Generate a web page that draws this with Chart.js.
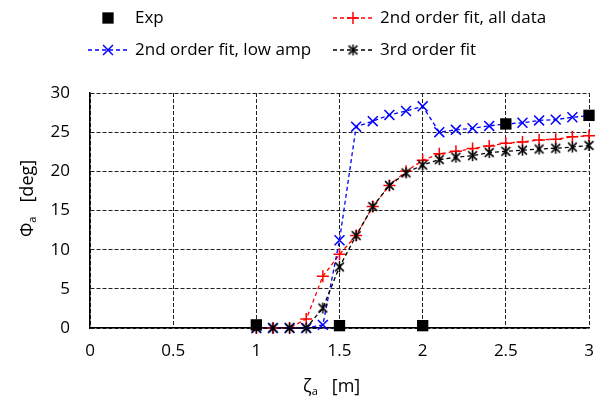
<!DOCTYPE html>
<html>
<head>
<meta charset="utf-8">
<script src="https://cdn.jsdelivr.net/npm/chart.js@4.4.0/dist/chart.umd.min.js"></script>
<style>
  html, body { margin: 0; padding: 0; background: #fff; }
  #wrap { width: 600px; height: 406px; }
</style>
</head>
<body>
<div id="wrap"><canvas id="phiChart" width="600" height="406"></canvas></div>
<script>
// Roll amplitude vs wave amplitude
const zeta = [1.0, 1.1, 1.2, 1.3, 1.4, 1.5, 1.6, 1.7, 1.8, 1.9, 2.0,
              2.1, 2.2, 2.3, 2.4, 2.5, 2.6, 2.7, 2.8, 2.9, 3.0];
const fitAllData = [0, 0, 0, 1.15, 6.6, 9.4, 11.8, 15.5, 18.2, 20.0, 21.4,
                    22.25, 22.55, 22.9, 23.25, 23.6, 23.75, 24.0, 24.1, 24.4, 24.55];
const fitLowAmp = [0, 0, 0, 0, 0.4, 11.2, 25.7, 26.4, 27.2, 27.7, 28.3,
                   25.0, 25.3, 25.5, 25.8, 26.05, 26.2, 26.5, 26.6, 26.9, 27.1];
const fit3rd = [0, 0, 0, 0, 2.55, 7.8, 11.8, 15.5, 18.2, 19.8, 20.8,
                21.5, 21.8, 22.0, 22.4, 22.55, 22.7, 22.85, 22.95, 23.1, 23.3];
const expZeta = [1.0, 1.5, 2.0, 2.5, 3.0];
const expPhi = [0.4, 0.3, 0.3, 26.05, 27.15];

const xTicks = [0, 0.5, 1, 1.5, 2, 2.5, 3];
const yTicks = [0, 5, 10, 15, 20, 25, 30];

const FONT = "'Open Sans', Lato, sans-serif";

function toPoints(xs, ys) {
  return xs.map((x, i) => ({ x: x, y: ys[i] }));
}

// Excel style "star" marker: an X with a vertical bar
function makeStar(size, color) {
  const c = document.createElement("canvas");
  c.width = size;
  c.height = size;
  const g = c.getContext("2d");
  const m = size / 2, r = size / 2 - 1;
  g.strokeStyle = color;
  g.lineWidth = 1.5;
  g.beginPath();
  g.moveTo(m - r * 0.8, m - r * 0.8); g.lineTo(m + r * 0.8, m + r * 0.8);
  g.moveTo(m + r * 0.8, m - r * 0.8); g.lineTo(m - r * 0.8, m + r * 0.8);
  g.moveTo(m, m - r); g.lineTo(m, m + r);
  g.stroke();
  return c;
}

const starMarker = makeStar(13, "#000");

function drawSub(ctx, main, sub, rest, x, y) {
  ctx.textAlign = "left";
  ctx.textBaseline = "alphabetic";
  ctx.font = "18px " + FONT;
  ctx.fillText(main, x, y);
  let w = ctx.measureText(main).width;
  ctx.font = "11px " + FONT;
  ctx.fillText(sub, x + w, y + 3);
  w += ctx.measureText(sub).width;
  ctx.font = "18px " + FONT;
  ctx.fillText(rest, x + w, y);
}

// where each legend entry goes: dataset index, line start, row y
const legendSlots = [
  { ds: 3, x: 88, y: 18, line: false },
  { ds: 0, x: 333, y: 18, line: true },
  { ds: 1, x: 88, y: 50, line: true },
  { ds: 2, x: 333, y: 50, line: true },
];

const textPlugin = {
  id: "axisText",
  afterDraw(chart) {
    const ctx = chart.ctx;
    ctx.save();
    ctx.fillStyle = "#000";
    drawSub(ctx, "ζ", "a", "   [m]", 303, 392);
    ctx.save();
    ctx.translate(33, 237);
    ctx.rotate(-Math.PI / 2);
    drawSub(ctx, "Φ", "a", "   [deg]", 0, 0);
    ctx.restore();

    legendSlots.forEach((s) => {
      const ds = chart.data.datasets[s.ds];
      const mid = s.x + 20;
      if (s.line) {
        ctx.save();
        ctx.strokeStyle = ds.borderColor;
        ctx.lineWidth = ds.borderWidth;
        ctx.setLineDash(ds.borderDash);
        ctx.beginPath();
        ctx.moveTo(s.x, s.y);
        ctx.lineTo(s.x + 40, s.y);
        ctx.stroke();
        ctx.restore();
      }
      ctx.save();
      ctx.strokeStyle = ds.pointBorderColor;
      ctx.fillStyle = ds.pointBackgroundColor;
      Chart.helpers.drawPoint(ctx, {
        pointStyle: ds.pointStyle,
        radius: ds.pointRadius,
        rotation: 0,
        borderWidth: ds.pointBorderWidth,
      }, mid, s.y);
      ctx.restore();
      ctx.fillStyle = "#000";
      ctx.font = "17px " + FONT;
      ctx.textBaseline = "middle";
      ctx.textAlign = "left";
      ctx.fillText(ds.label, s.x + 47, s.y);
    });
    ctx.restore();
  },
};

const tickLabel = (v) => String(v);

const ctx = document.getElementById("phiChart").getContext("2d");
new Chart(ctx, {
  type: "scatter",
  data: {
    datasets: [
      {
        label: "2nd order fit, all data",
        data: toPoints(zeta, fitAllData),
        showLine: true,
        borderColor: "#ff0000",
        borderWidth: 1.3,
        borderDash: [4, 3],
        pointStyle: "cross",
        pointRadius: 6,
        pointBorderWidth: 1.5,
        pointBorderColor: "#ff0000",
        pointBackgroundColor: "#ff0000",
        clip: false,
        order: 3,
      },
      {
        label: "2nd order fit, low amp",
        data: toPoints(zeta, fitLowAmp),
        showLine: true,
        borderColor: "#0000ff",
        borderWidth: 1.3,
        borderDash: [4, 3],
        pointStyle: "crossRot",
        pointRadius: 7,
        pointBorderWidth: 1.5,
        pointBorderColor: "#0000ff",
        pointBackgroundColor: "#0000ff",
        clip: false,
        order: 2,
      },
      {
        label: "3rd order fit",
        data: toPoints(zeta, fit3rd),
        showLine: true,
        borderColor: "#000000",
        borderWidth: 1.3,
        borderDash: [4, 3],
        pointStyle: starMarker,
        pointRadius: 6,
        pointBorderWidth: 1.5,
        pointBorderColor: "#000000",
        pointBackgroundColor: "#000000",
        clip: false,
        order: 1,
      },
      {
        label: "Exp",
        data: toPoints(expZeta, expPhi),
        showLine: false,
        pointStyle: "rect",
        pointRadius: 8,
        pointBorderWidth: 0,
        pointBorderColor: "#000000",
        pointBackgroundColor: "#000000",
        clip: false,
        order: 0,
      },
    ],
  },
  options: {
    responsive: false,
    animation: false,
    devicePixelRatio: 1,
    layout: { padding: { top: 93, right: 11, left: 0, bottom: 0 } },
    plugins: {
      legend: { display: false },
      tooltip: { enabled: false },
    },
    scales: {
      x: {
        type: "linear",
        min: 0,
        max: 3,
        afterFit: (s) => { s.height = 78; s.paddingRight = 0; s.paddingLeft = 0; },
        afterBuildTicks: (s) => { s.ticks = xTicks.map((v) => ({ value: v })); },
        ticks: { color: "#000", font: { family: FONT, size: 17 }, padding: 13, maxRotation: 0, callback: tickLabel },
        grid: { color: "#222", lineWidth: 1, drawTicks: false },
        border: { display: true, color: "#000", width: 1.5, dash: [4, 2] },
      },
      y: {
        type: "linear",
        min: 0,
        max: 30,
        afterFit: (s) => { s.width = 90; },
        afterBuildTicks: (s) => { s.ticks = yTicks.map((v) => ({ value: v })); },
        ticks: { color: "#000", font: { family: FONT, size: 17 }, padding: 20, callback: tickLabel },
        grid: { color: "#222", lineWidth: 1, drawTicks: false },
        border: { display: true, color: "#000", width: 1.5, dash: [4, 2] },
      },
    },
  },
  plugins: [textPlugin],
});
</script>
</body>
</html>
